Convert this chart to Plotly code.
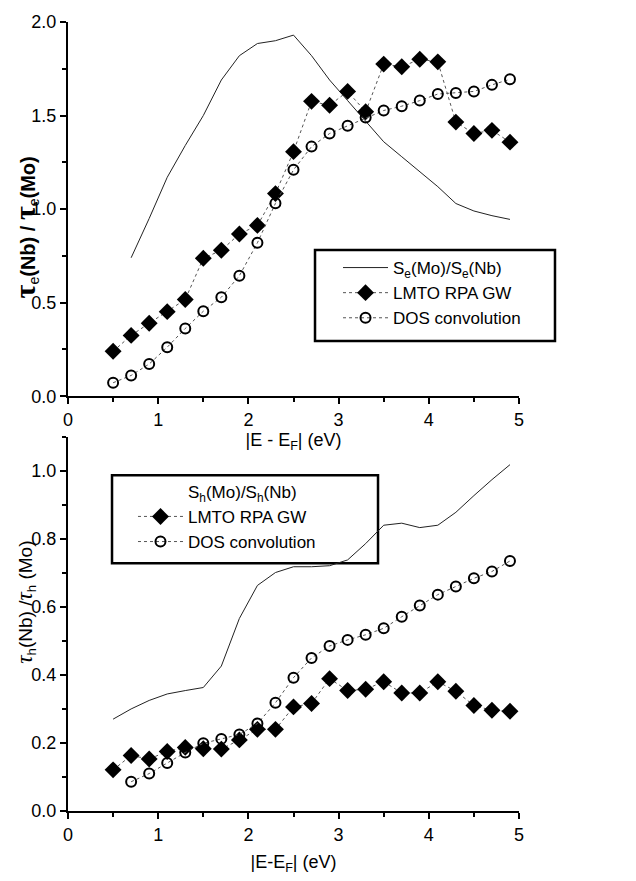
import plotly.graph_objects as go

# ---------------- data ----------------
# top panel (electrons)
e_x = [0.5, 0.7, 0.9, 1.1, 1.3, 1.5, 1.7, 1.9, 2.1, 2.3, 2.5, 2.7, 2.9, 3.1, 3.3, 3.5, 3.7, 3.9, 4.1, 4.3, 4.5, 4.7, 4.9]
e_lmto = [0.24, 0.325, 0.39, 0.452, 0.517, 0.737, 0.78, 0.867, 0.913, 1.083, 1.307, 1.576, 1.555, 1.629, 1.52,
          1.775, 1.761, 1.801, 1.787, 1.465, 1.404, 1.421, 1.358]
e_dos = [0.072, 0.111, 0.172, 0.262, 0.362, 0.454, 0.529, 0.644, 0.82, 1.031, 1.21, 1.334, 1.404, 1.445, 1.489,
         1.527, 1.55, 1.58, 1.615, 1.62, 1.629, 1.664, 1.694]
e_s_x = [0.7, 0.9, 1.1, 1.3, 1.5, 1.7, 1.9, 2.1, 2.3, 2.5, 2.7, 2.9, 3.1, 3.3, 3.5, 3.7, 3.9, 4.1, 4.3, 4.5, 4.7, 4.9]
e_s = [0.74, 0.95, 1.17, 1.34, 1.5, 1.69, 1.82, 1.885, 1.90, 1.93, 1.82, 1.69, 1.58, 1.47, 1.36, 1.28, 1.20,
       1.12, 1.03, 0.99, 0.965, 0.945]

# bottom panel (holes)
h_x = [0.5, 0.7, 0.9, 1.1, 1.3, 1.5, 1.7, 1.9, 2.1, 2.3, 2.5, 2.7, 2.9, 3.1, 3.3, 3.5, 3.7, 3.9, 4.1, 4.3, 4.5, 4.7, 4.9]
h_lmto = [0.121, 0.163, 0.153, 0.175, 0.187, 0.183, 0.182, 0.209, 0.24, 0.24, 0.306, 0.316, 0.389, 0.354, 0.358,
          0.38, 0.347, 0.347, 0.38, 0.352, 0.31, 0.296, 0.293]
h_dos_x = [0.7, 0.9, 1.1, 1.3, 1.5, 1.7, 1.9, 2.1, 2.3, 2.5, 2.7, 2.9, 3.1, 3.3, 3.5, 3.7, 3.9, 4.1, 4.3, 4.5, 4.7, 4.9]
h_dos = [0.086, 0.11, 0.141, 0.172, 0.199, 0.212, 0.225, 0.257, 0.318, 0.392, 0.45, 0.485, 0.503, 0.518, 0.537,
         0.571, 0.604, 0.636, 0.66, 0.684, 0.704, 0.735]
h_s_x = [0.5, 0.7, 0.9, 1.1, 1.3, 1.5, 1.7, 1.9, 2.1, 2.3, 2.5, 2.7, 2.9, 3.1, 3.3, 3.5, 3.7, 3.9, 4.1, 4.3, 4.5, 4.7, 4.9]
h_s = [0.27, 0.30, 0.325, 0.344, 0.354, 0.363, 0.426, 0.566, 0.663, 0.701, 0.718, 0.718, 0.721, 0.738, 0.786,
       0.84, 0.846, 0.833, 0.84, 0.878, 0.927, 0.974, 1.018]

TAU_TOP = "<span style='font-family:Liberation Serif;font-weight:bold;font-size:30px'>τ</span>"
TAU_BOT = "<span style='font-family:Liberation Serif;font-style:italic;font-size:23px'>τ</span>"
name_se = "S<sub>e</sub>(Mo)/S<sub>e</sub>(Nb)"
name_sh = "S<sub>h</sub>(Mo)/S<sub>h</sub>(Nb)"
name_lmto = "LMTO RPA GW"
name_dos = "DOS convolution"
title_top_y = (TAU_TOP + "<sub>e</sub><b>(Nb) / </b>" + TAU_TOP + "<sub>e</sub><b>(Mo)</b>")
title_bot_y = TAU_BOT + "<sub>h</sub>(Nb) /" + TAU_BOT + "<sub>h</sub> (Mo)"
title_top_x = "|E - E<sub>F</sub>| (eV)"
title_bot_x = "|E-E<sub>F</sub>| (eV)"

FONT = "Liberation Sans, Arial, Helvetica, sans-serif"
DOT = dict(color="#555555", width=1, dash="dot")

fig = go.Figure()

# top panel
fig.add_trace(go.Scatter(x=e_s_x, y=e_s, mode="lines", name=name_se,
                         line=dict(color="#222222", width=1), xaxis="x", yaxis="y", legend="legend"))
fig.add_trace(go.Scatter(x=e_x, y=e_lmto, mode="lines+markers", name=name_lmto, line=DOT,
                         marker=dict(symbol="diamond", size=13, color="black"),
                         xaxis="x", yaxis="y", legend="legend"))
fig.add_trace(go.Scatter(x=e_x, y=e_dos, mode="lines+markers", name=name_dos, line=DOT,
                         marker=dict(symbol="circle-open", size=10, color="black", line=dict(width=2)),
                         xaxis="x", yaxis="y", legend="legend"))

# bottom panel
fig.add_trace(go.Scatter(x=h_s_x, y=h_s, mode="lines", name=name_sh, showlegend=False,
                         line=dict(color="#222222", width=1), xaxis="x2", yaxis="y2"))
fig.add_trace(go.Scatter(x=[None], y=[None], mode="lines", name=name_sh,
                         line=dict(color="rgba(0,0,0,0)", width=1), xaxis="x2", yaxis="y2", legend="legend2"))
fig.add_trace(go.Scatter(x=h_x, y=h_lmto, mode="lines+markers", name=name_lmto, line=DOT,
                         marker=dict(symbol="diamond", size=13, color="black"),
                         xaxis="x2", yaxis="y2", legend="legend2"))
fig.add_trace(go.Scatter(x=h_dos_x, y=h_dos, mode="lines+markers", name=name_dos, line=DOT,
                         marker=dict(symbol="circle-open", size=10, color="black", line=dict(width=2)),
                         xaxis="x2", yaxis="y2", legend="legend2"))

axis_common = dict(showline=True, linecolor="black", linewidth=2, ticks="outside", ticklen=6, tickwidth=2,
                   tickcolor="black", showgrid=False, zeroline=False, mirror=False,
                   tickfont=dict(size=18, color="black", family=FONT))

fig.update_layout(
    width=636, height=881,
    margin=dict(l=68, r=117, t=13, b=69),
    paper_bgcolor="white", plot_bgcolor="white",
    font=dict(family=FONT, color="black"),
    xaxis=dict(domain=[0, 1], anchor="y", range=[0, 5], dtick=1,
               minor=dict(dtick=0.5, ticks="outside", ticklen=4, tickwidth=2, tickcolor="black"),
               title=dict(text=title_top_x, font=dict(size=18), standoff=4),
               **axis_common),
    yaxis=dict(domain=[0.5257, 1], anchor="x", range=[0, 2.0], dtick=0.5, tickformat=".1f",
               minor=dict(dtick=0.25, ticks="outside", ticklen=4, tickwidth=2, tickcolor="black"),
               **axis_common),
    xaxis2=dict(domain=[0, 1], anchor="y2", range=[0, 5], dtick=1,
                minor=dict(dtick=0.5, ticks="outside", ticklen=4, tickwidth=2, tickcolor="black"),
                title=dict(text=title_bot_x, font=dict(size=18), standoff=12),
                **axis_common),
    yaxis2=dict(domain=[0, 0.4743], anchor="x2", range=[0, 1.1], dtick=0.2, tickformat=".1f",
                minor=dict(dtick=0.1, ticks="outside", ticklen=4, tickwidth=2, tickcolor="black"),
                **axis_common),
    legend=dict(x=0.5987, y=0.711, xanchor="left", yanchor="top", bgcolor="rgba(0,0,0,0)",
                borderwidth=0, itemwidth=45, font=dict(size=17, family=FONT, color="black"),
                tracegroupgap=0),
    legend2=dict(x=0.1441, y=0.4274, xanchor="left", yanchor="top", bgcolor="rgba(0,0,0,0)",
                 borderwidth=0, itemwidth=45, font=dict(size=17, family=FONT, color="black"),
                 tracegroupgap=0),
    annotations=[
        dict(text=title_top_y, xref="paper", yref="paper", x=-0.0953, y=0.7397, xanchor="center",
             yanchor="middle", textangle=-90, showarrow=False, font=dict(size=20, color="black", family=FONT)),
        dict(text=title_bot_y, xref="paper", yref="paper", x=-0.0931, y=0.2641, xanchor="center",
             yanchor="middle", textangle=-90, showarrow=False, font=dict(size=19, color="black", family=FONT)),
    ],
    shapes=[
        dict(type="rect", xref="paper", yref="paper", x0=0.5477, x1=1.0798, y0=0.5957, y1=0.7109,
             line=dict(color="black", width=2.5), fillcolor="white", layer="below"),
        dict(type="rect", xref="paper", yref="paper", x0=0.0976, x1=0.6874, y0=0.3141, y1=0.4255,
             line=dict(color="black", width=2.5), fillcolor="white", layer="below"),
    ],
)

fig.write_html("out.html")
